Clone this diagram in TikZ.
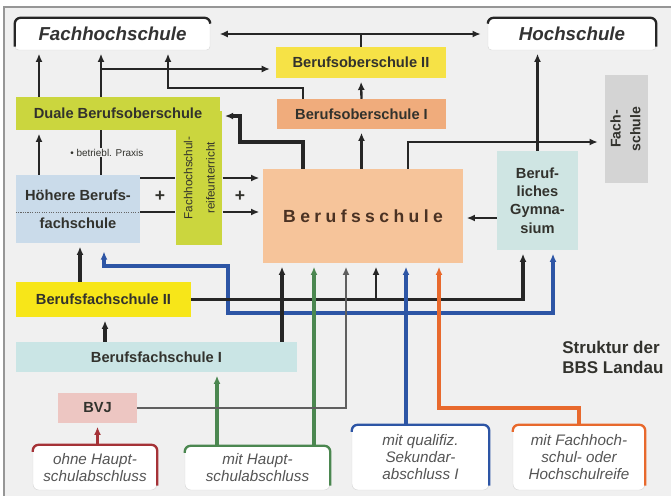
\documentclass[tikz,border=0pt]{standalone}
\usepackage{fontspec}
\setmainfont{Liberation Sans}
\newfontfamily\spacedfont[LetterSpace=25]{Liberation Sans}
\usetikzlibrary{arrows.meta}

\definecolor{canvas}{RGB}{240,240,240}
\definecolor{frame}{RGB}{150,150,150}
\definecolor{lime}{RGB}{203,214,62}
\definecolor{bosyellow}{RGB}{246,226,70}
\definecolor{bfsyellow}{RGB}{247,230,25}
\definecolor{bosorange}{RGB}{240,172,124}
\definecolor{bspeach}{RGB}{246,196,154}
\definecolor{hbfsblue}{RGB}{202,219,234}
\definecolor{bgteal}{RGB}{207,229,227}
\definecolor{bfsteal}{RGB}{202,229,229}
\definecolor{fsgray}{RGB}{212,212,212}
\definecolor{bvjpink}{RGB}{237,198,194}
\definecolor{txt}{RGB}{50,50,45}
\definecolor{bstxt}{RGB}{75,50,35}
\definecolor{srctxt}{RGB}{85,85,85}
\definecolor{lineblue}{RGB}{45,85,165}
\definecolor{linegreen}{RGB}{75,135,80}
\definecolor{lineorange}{RGB}{232,105,45}
\definecolor{linered}{RGB}{165,50,55}
\definecolor{linegray}{RGB}{95,95,95}

\begin{document}
\begin{tikzpicture}[x=0.03cm, y=-0.03cm, every node/.style={inner sep=1pt},
  box/.style={rectangle, align=center, text=txt, font=\bfseries\fontsize{12.5}{15.6}\selectfont},
  endbox/.style={rectangle, rounded corners=3pt, draw=black!15, fill=white, text=black!80, font=\bfseries\itshape\fontsize{16}{18}\selectfont},
  srcbox/.style={rectangle, rounded corners=5pt, draw=black!15, fill=white, text=srctxt, align=center, font=\itshape\fontsize{13}{14.5}\selectfont},
  edge/.style={rounded corners=5pt, line width=2pt},
  link/.style={black!85, line width=2pt},
  arr/.style={link, -{Latex[length=7pt,width=6pt]}, shorten >=3pt}]
  \useasboundingbox (0,0) rectangle (671,496);
  \fill[white] (0,0) rectangle (671,496);
  \fill[canvas] (4,7) rectangle (671,496);
  \draw[frame, line width=1.2pt] (671,7) -- (4,7) -- (4,496);

  \node[endbox, minimum width=5.85cm, minimum height=0.96cm] (fh) at (112.5,34) {Fachhochschule};
  \node[endbox, minimum width=5.04cm, minimum height=0.96cm] (hs) at (572,34) {Hochschule};
  \draw[edge, black!85] ([yshift=3pt]fh.south west) -- (fh.north west) -- (fh.north east) -- ([yshift=-5pt]fh.north east);
  \draw[edge, black!85] ([yshift=-5pt]hs.north west) -- (hs.north west) -- (hs.north east) -- ([yshift=3pt]hs.south east);
  \node[box, fill=bosyellow, minimum width=5.1cm, minimum height=0.93cm] (bos2) at (361,62.5) {Berufsoberschule II};
  \node[box, fill=bosorange, minimum width=5.07cm, minimum height=0.9cm] (bos1) at (361.5,114) {Berufsoberschule I};
  \node[box, fill=lime, minimum width=1.26cm, minimum height=4.02cm, font=\fontsize{10}{19}\selectfont] (fhr) at (199,178) {\rotatebox{90}{\begin{tabular}{@{}c@{}}Fachhochschul-\\reifeunterricht\end{tabular}}};
  \node[box, fill=lime, minimum width=6.12cm, minimum height=0.99cm] (dbos) at (118,113.5) {Duale Berufsoberschule};
  \node[box, fill=hbfsblue, minimum width=3.72cm, minimum height=2.04cm] (hbfs) at (78,209) {Höhere Berufs-\\[8pt]fachschule};
  \draw[densely dotted, line width=1pt, black!60] ([yshift=-3pt]hbfs.west) -- ([yshift=-3pt]hbfs.east);
  \node[box, fill=bspeach, minimum width=6cm, minimum height=2.82cm, text=bstxt, font=\spacedfont\bfseries\fontsize{15}{18}\selectfont] (bs) at (363,216) {Berufsschule};
  \node[box, fill=fsgray, minimum width=1.29cm, minimum height=3.24cm, font=\bfseries\fontsize{12}{17}\selectfont] (fs) at (626.5,129) {\rotatebox{90}{\begin{tabular}{@{}c@{}}Fach-\\schule\end{tabular}}};
  \node[box, fill=bgteal, minimum width=2.43cm, minimum height=2.97cm] (bg) at (537.5,200.5) {Beruf-\\liches\\Gymna-\\sium};
  \node[box, fill=bfsyellow, minimum width=5.25cm, minimum height=1.05cm] (bfs2) at (103.5,299.5) {Berufsfachschule II};
  \node[box, fill=bfsteal, minimum width=8.43cm, minimum height=0.9cm] (bfs1) at (156.5,357) {Berufsfachschule I};
  \node[box, fill=bvjpink, minimum width=2.37cm, minimum height=0.9cm] (bvj) at (97.5,408) {BVJ};
  \node[srcbox, minimum width=3.72cm, minimum height=1.35cm] (s1) at (95,467.5) {ohne Haupt-\\schulabschluss};
  \node[srcbox, minimum width=4.35cm, minimum height=1.32cm] (s2) at (257.5,468) {mit Haupt-\\schulabschluss};
  \node[srcbox, minimum width=4.11cm, minimum height=1.95cm] (s3) at (420.5,457.5) {mit qualifiz.\\Sekundar-\\abschluss I};
  \node[srcbox, minimum width=3.96cm, minimum height=1.95cm] (s4) at (579,457.5) {mit Fachhoch-\\schul- oder\\Hochschulreife};
  \draw[edge, linered] ([yshift=-6pt]s1.north west) -- (s1.north west) -- (s1.north east) -- ([yshift=4pt]s1.south east);
  \draw[edge, linegreen] ([yshift=-6pt]s2.north west) -- (s2.north west) -- (s2.north east) -- ([yshift=4pt]s2.south east);
  \draw[edge, lineblue] ([yshift=-6pt]s3.north west) -- (s3.north west) -- (s3.north east) -- ([yshift=4pt]s3.south east);
  \draw[edge, lineorange] ([yshift=-6pt]s4.north west) -- (s4.north west) -- (s4.north east) -- ([yshift=4pt]s4.south east);
  \node[box, anchor=west, align=left, font=\bfseries\fontsize{14.5}{17}\selectfont] (title) at (561,357) {Struktur der\\BBS Landau};

  \coordinate (colA) at (39,0);
  \coordinate (colB) at (101,0);
  \coordinate (colC) at (168,0);
  \coordinate (colF) at (240,0);
  \coordinate (colD) at (303,0);
  \coordinate (colE) at (408,0);
  \coordinate (rowA) at (0,69);
  \coordinate (rowB) at (0,88);
  \coordinate (rowD) at (0,116);
  \coordinate (rowC) at (0,142);
  \coordinate (rowE) at (0,178);
  \coordinate (rowF) at (0,212);
  \coordinate (rowG) at (0,218);

  \draw[arr, shorten >=8pt] (bos2.north) -- (bos2.north |- fh.east) -- (fh.east);
  \draw[arr, shorten >=6pt] (bos2.north |- hs.west) -- (hs.west);
  \draw[arr] (bos1.north) -- (bos2.south);
  \draw[arr] (bos1.south |- bs.north) -- (bos1.south);
  \draw[arr] (colD |- bos1.north) -- (colD |- rowB) -- (colC |- rowB) -- (colC |- fh.south);
  \draw[arr] (colA |- dbos.north) -- (colA |- fh.south);
  \draw[arr] (colB |- dbos.north) -- (colB |- fh.south);
  \draw[arr, shorten >=5pt] (colB |- rowA) -- (bos2.west |- rowA);
  \draw[arr, line width=2.6pt, shorten >=4pt] (colD |- bs.north) -- (colD |- rowC) -- (colF |- rowC) -- (colF |- rowD) -- (dbos.east |- rowD);
  \draw[arr, shorten >=6pt] (colE |- bs.north) -- (colE |- rowC) -- (fs.west |- rowC);
  \draw[arr, line width=2.6pt] (bg.north) -- (bg.north |- hs.south);
  \draw[arr] (bg.west |- rowG) -- (bs.east |- rowG);
  \draw[arr] (colA |- hbfs.north) -- (colA |- dbos.south);
  \draw[link] (colB |- hbfs.north) -- node[fill=canvas, xshift=5pt, text=txt, font=\fontsize{8.5}{9}\selectfont] (praxis) {• betriebl. Praxis} (colB |- dbos.south);
  \draw[link] (hbfs.east |- rowE) -- (fhr.west |- rowE);
  \draw[arr] (fhr.east |- rowE) -- (bs.west |- rowE);
  \draw[link] (hbfs.east |- rowF) -- (fhr.west |- rowF);
  \draw[arr] (fhr.east |- rowF) -- (bs.west |- rowF);
  \node[text=txt, font=\bfseries\fontsize{15}{15}\selectfont] (plus1) at (160,196) {+};
  \node[text=txt, font=\bfseries\fontsize{15}{15}\selectfont] (plus2) at (240,196) {+};

  \coordinate (colG) at (80,0);
  \coordinate (colM) at (104,0);
  \coordinate (colH) at (105,0);
  \coordinate (colS) at (217,0);
  \coordinate (colL) at (228,0);
  \coordinate (colQ) at (282,0);
  \coordinate (colR) at (314,0);
  \coordinate (colT) at (346,0);
  \coordinate (colP) at (376,0);
  \coordinate (colK) at (406,0);
  \coordinate (colV) at (439,0);
  \coordinate (colO) at (523,0);
  \coordinate (colN) at (553,0);
  \coordinate (rowI) at (0,266);
  \coordinate (rowH) at (0,313);
  \coordinate (rowJ) at (0,408);

  \draw[arr, line width=3pt] (colG |- bfs2.north) -- (colG |- hbfs.south);
  \draw[arr, line width=3pt] (colH |- bfs1.north) -- (colH |- bfs2.south);
  \draw[arr, lineblue, line width=3pt, shorten >=7pt] (colK |- rowH) -- (colL |- rowH) -- (colL |- rowI) -- (colM |- rowI) -- (colM |- hbfs.south);
  \draw[arr, lineblue, line width=3pt] (colK |- rowH) -- (colN |- rowH) -- (colN |- bg.south);
  \draw[arr, line width=2.6pt] (bfs2.east) -- (colO |- bfs2.east) -- (colO |- bg.south);
  \draw[arr] (colP |- bfs2.east) -- (colP |- bs.south);
  \draw[arr, line width=3pt] (colQ |- bfs1.north) -- (colQ |- bs.south);
  \draw[arr, linegreen, line width=2.6pt] (colR |- s2.north) -- (colR |- bs.south);
  \draw[arr, linegreen, line width=2.6pt] (colS |- s2.north) -- (colS |- bfs1.south);
  \draw[arr, linegray, line width=1.8pt] (bvj.east) -- (colT |- bvj.east) -- (colT |- bs.south);
  \draw[arr, linered, line width=2.6pt] (bvj.south |- s1.north) -- (bvj.south);
  \draw[arr, lineblue, line width=3pt] (colK |- s3.north) -- (colK |- bs.south);
  \draw[arr, lineorange, line width=3pt] (s4.north) -- (s4.north |- rowJ) -- (colV |- rowJ) -- (colV |- bs.south);
\end{tikzpicture}
\end{document}
